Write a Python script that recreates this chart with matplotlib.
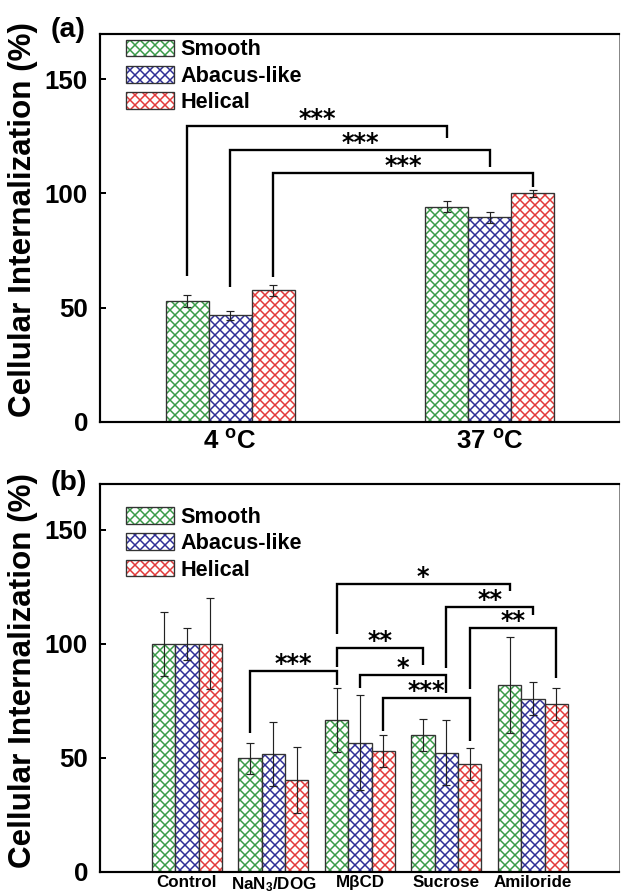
import numpy as np
import matplotlib
matplotlib.use("Agg")
import matplotlib.pyplot as plt
from matplotlib.patches import Patch
from matplotlib.legend_handler import HandlerTuple

# Fonts: Arial-like bold everywhere, mathtext in the same font
plt.rcParams["font.family"] = ["Liberation Sans", "DejaVu Sans"]
plt.rcParams["font.weight"] = "bold"
plt.rcParams["mathtext.fontset"] = "custom"
plt.rcParams["mathtext.rm"] = "Liberation Sans:bold"
plt.rcParams["mathtext.it"] = "Liberation Sans:bold"
plt.rcParams["mathtext.bf"] = "Liberation Sans:bold"
plt.rcParams["mathtext.default"] = "rm"
plt.rcParams["hatch.linewidth"] = 0.9

# Panel (a): temperature
temps = ["4 $^{\\rm o}$C", "37 $^{\\rm o}$C"]
smooth_a = [52.8, 94.2]
smooth_a_err = [2.5, 2.4]
abacus_a = [46.6, 89.5]
abacus_a_err = [2.0, 2.3]
helical_a = [57.6, 100.0]
helical_a_err = [2.4, 1.6]

# Panel (b): inhibitors
conditions = ["Control", "NaN$_3$/DOG", "M\u03b2CD", "Sucrose", "Amiloride"]
smooth_b = [100, 49.7, 66.6, 60.0, 82.0]
smooth_b_err = [14, 7, 14.2, 7, 21.2]
abacus_b = [100, 51.5, 56.7, 52.3, 75.9]
abacus_b_err = [7, 14, 21, 14.3, 7.3]
helical_b = [100, 40.3, 52.8, 47.4, 73.6]
helical_b_err = [20, 14.5, 7, 7, 7]

series_names = ["Smooth", "Abacus-like", "Helical"]
hatch_colors = ["#3a9a48", "#2e2e96", "#e23a3a"]
edge_color = "#333333"

# significance brackets: (group1, series1, group2, series2, y_left, y_top, y_right, label)
brackets_a = [
    (0, 0, 1, 0, 63.8, 129.5, 124.1, "***"),
    (0, 1, 1, 1, 58.9, 119.0, 111.7, "***"),
    (0, 2, 1, 2, 63.5, 108.8, 102.9, "***"),
]
brackets_b = [
    (1, 0, 2, 0, 61.0, 88.1, 81.9, "***"),
    (2, 0, 3, 0, 90.0, 98.0, 90.9, "**"),
    (2, 1, 3, 1, 80.6, 86.5, 78.4, "*"),
    (2, 2, 3, 2, 61.9, 76.2, 57.2, "***"),
    (3, 1, 4, 1, 89.4, 116.0, 112.6, "**"),
    (3, 2, 4, 2, 80.2, 107.0, 85.0, "**"),
    (2, 0, 4, 0, 104.3, 126.2, 123.3, "*"),
]


def draw_panel(ax, cats, vals, errs, width, xlim, brackets, tick_size, tick_pad):
    x = np.arange(len(cats))
    for i, (v, e) in enumerate(zip(vals, errs)):
        xi = x + (i - 1) * width
        ax.bar(xi, v, width, color="white", edgecolor=hatch_colors[i],
               hatch="xxxx", linewidth=0)
        ax.bar(xi, v, width, color="none", edgecolor=edge_color, linewidth=0.8)
        ax.errorbar(xi, v, yerr=e, fmt="none", ecolor="#222222",
                    elinewidth=0.7, capsize=2.2, capthick=0.7)

    for g1, s1, g2, s2, yl, yt, yr, lab in brackets:
        x1 = g1 + (s1 - 1) * width
        x2 = g2 + (s2 - 1) * width
        ax.plot([x1, x1, x2, x2], [yl, yt, yt, yr], color="black", lw=1.4,
                solid_joinstyle="miter", solid_capstyle="butt")
        ax.annotate(lab, xy=((x1 + x2) / 2, yt), xytext=(0, 0),
                    textcoords="offset points", ha="center", va="baseline",
                    fontsize=14.5, fontweight="bold", family="DejaVu Sans")

    ax.set_xlim(*xlim)
    ax.set_ylim(0, 170)
    ax.set_xticks(x)
    ax.set_xticklabels(cats, fontsize=tick_size, fontweight="bold")
    ax.set_yticks([0, 50, 100, 150])
    ax.tick_params(axis="y", direction="in", length=3.6, width=1.2,
                   labelsize=15.5, pad=7.5)
    ax.tick_params(axis="x", length=0, pad=tick_pad)
    for sp in ax.spines.values():
        sp.set_linewidth(1.3)
    ax.spines["right"].set_linewidth(0.6)
    ax.spines["right"].set_color("#888888")
    ax.set_ylabel("Cellular Internalization (%)", fontsize=18.8, fontweight="bold")
    ax.yaxis.set_label_coords(-0.12, 0.52)

    handles = []
    for c in hatch_colors:
        h1 = Patch(facecolor="white", edgecolor=c, hatch="xxxx", linewidth=0)
        h2 = Patch(facecolor="none", edgecolor=edge_color, linewidth=0.8)
        handles.append((h1, h2))
    return handles


def add_legend(ax, handles, top):
    ax.legend(handles, series_names, handler_map={tuple: HandlerTuple(ndivide=1)},
              loc="upper left", bbox_to_anchor=(0.049, top), frameon=False,
              fontsize=13, handlelength=2.2, handleheight=0.8, labelspacing=0.25,
              handletextpad=0.3, borderpad=0, borderaxespad=0)


fig = plt.figure(figsize=(621 / 120, 894 / 120), dpi=120)
ax_a = fig.add_axes([0.1618, 0.5283, 0.8357, 0.4342])
ax_b = fig.add_axes([0.1618, 0.02494, 0.8357, 0.4333])

h = draw_panel(ax_a, temps, [smooth_a, abacus_a, helical_a],
               [smooth_a_err, abacus_a_err, helical_a_err], 0.166, (-0.5, 1.5),
               brackets_a, 15.5, 5)
add_legend(ax_a, h, 0.985)
ax_a.text(-0.097, 1.009, "(a)", transform=ax_a.transAxes, ha="left",
          va="center", fontsize=17, fontweight="bold")

h = draw_panel(ax_b, conditions, [smooth_b, abacus_b, helical_b],
               [smooth_b_err, abacus_b_err, helical_b_err], 0.27, (-1, 5),
               brackets_b, 10.2, 2)
add_legend(ax_b, h, 0.942)
ax_b.text(-0.097, 1.003, "(b)", transform=ax_b.transAxes, ha="left",
          va="center", fontsize=17, fontweight="bold")

fig.savefig("out.png", dpi=120)
